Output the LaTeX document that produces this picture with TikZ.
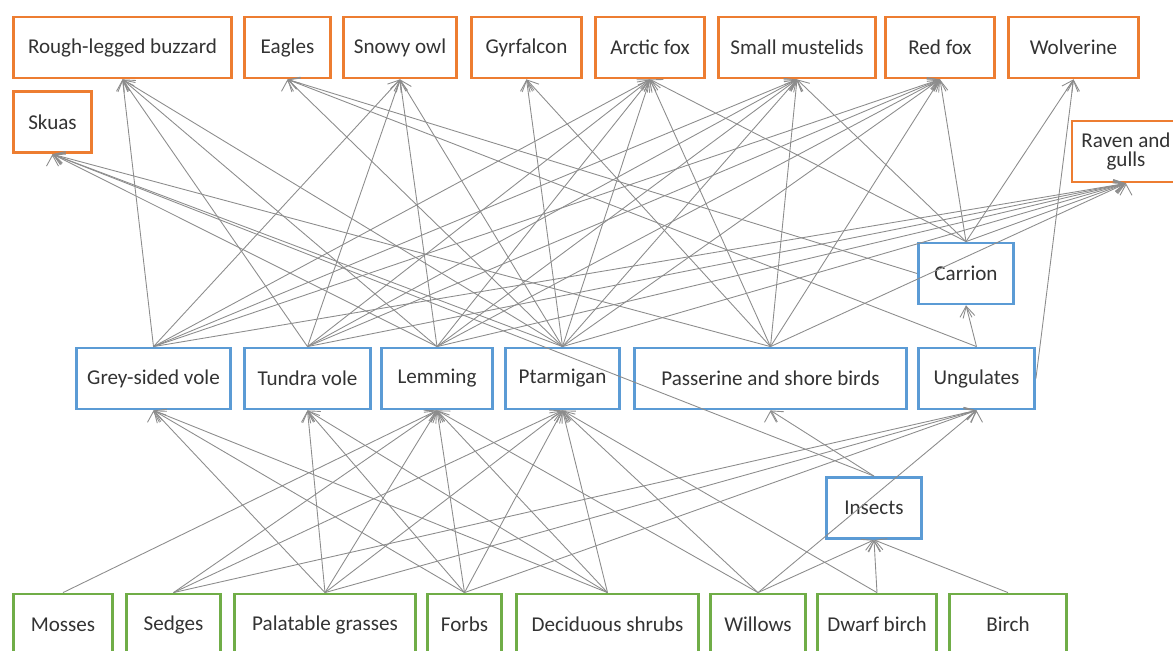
\documentclass[tikz,border=0pt]{standalone}
\usepackage{fontspec}
\setmainfont{Carlito}
\usetikzlibrary{positioning,arrows.meta}

\definecolor{predorange}{RGB}{237,125,49}
\definecolor{preyblue}{RGB}{91,155,213}
\definecolor{plantgreen}{RGB}{112,173,71}
\definecolor{webgray}{RGB}{140,140,140}

\tikzset{
  box/.style={draw, line width=1.6pt, fill=white, minimum height=1.22cm,
    inner sep=2pt, align=center, text=black!80, font=\fontsize{12}{13}\selectfont},
  pred/.style={box, draw=predorange},
  prey/.style={box, draw=preyblue},
  plant/.style={box, draw=plantgreen},
  eaten/.style={draw=webgray, line width=0.5pt, {Straight Barb[length=2.2mm,width=2.4mm]}-},
}

\begin{document}
\begin{tikzpicture}
  \useasboundingbox (0,0) rectangle (23.46,-13.02);

  % predators
  \node [pred, minimum width=4.36cm] at (2.45,-0.95) (rlb) {Rough-legged buzzard};
  \node [pred, minimum width=1.72cm] at (5.75,-0.95) (eagles) {Eagles};
  \node [pred, minimum width=2.26cm] at (8,-0.95) (snowy) {Snowy owl};
  \node [pred, minimum width=2.2cm] at (10.53,-0.95) (gyr) {Gyrfalcon};
  \node [pred, minimum width=2.18cm] at (13,-0.95) (afox) {Arctic fox};
  \node [pred, minimum width=3.14cm] at (15.94,-0.95) (must) {Small mustelids};
  \node [pred, minimum width=2.18cm] at (18.8,-0.95) (rfox) {Red fox};
  \node [pred, minimum width=2.6cm] at (21.47,-0.95) (wolv) {Wolverine};
  \node [pred, minimum width=1.56cm, below=0.22cm of rlb.south west, anchor=north west] (skuas) {Skuas};
  \node [pred, minimum width=2.16cm] at (22.52,-3.03) (raven) {Raven and\\[-2pt]gulls};

  % prey
  \node [prey, minimum width=3.08cm] at (3.07,-7.57) (gsv) {Grey-sided vole};
  \node [prey, minimum width=2.52cm] at (6.15,-7.57) (tv) {Tundra vole};
  \node [prey, minimum width=2.22cm] at (8.74,-7.57) (lem) {Lemming};
  \node [prey, minimum width=2.28cm] at (11.25,-7.57) (ptar) {Ptarmigan};
  \node [prey, minimum width=5.44cm] at (15.41,-7.57) (pass) {Passerine and shore birds};
  \node [prey, minimum width=2.32cm] at (19.53,-7.57) (ung) {Ungulates};
  \node [prey, minimum width=1.9cm] at (19.32,-5.47) (carrion) {Carrion};
  \node [prey, minimum width=1.9cm] at (17.48,-10.16) (insects) {Insects};

  % plants
  \node [plant, minimum width=1.98cm] at (1.26,-12.49) (mosses) {Mosses};
  \node [plant, minimum width=1.88cm] at (3.47,-12.49) (sedges) {Sedges};
  \node [plant, minimum width=3.62cm] at (6.5,-12.49) (grass) {Palatable grasses};
  \node [plant, minimum width=1.48cm] at (9.29,-12.49) (forbs) {Forbs};
  \node [plant, minimum width=3.64cm] at (12.15,-12.49) (shrubs) {Deciduous shrubs};
  \node [plant, minimum width=1.9cm] at (15.16,-12.49) (willows) {Willows};
  \node [plant, minimum width=2.38cm] at (17.54,-12.49) (dbirch) {Dwarf birch};
  \node [plant, minimum width=2.34cm] at (20.16,-12.49) (birch) {Birch};

  % who eats what
  \draw [eaten] (gsv.south) edge (grass.north) edge (forbs.north) edge (shrubs.north);
  \draw [eaten] (tv.south) edge (grass.north) edge (forbs.north) edge (shrubs.north);
  \draw [eaten] (lem.south) edge (mosses.north) edge (sedges.north) edge (grass.north) edge (forbs.north)
    edge (shrubs.north) edge (willows.north);
  \draw [eaten] (ptar.south) edge (sedges.north) edge (grass.north) edge (forbs.north)
    edge (shrubs.north) edge (willows.north) edge (dbirch.north);
  \draw [eaten] (ung.south) edge (sedges.north) edge (grass.north) edge (forbs.north) edge (willows.north);
  \draw [eaten] (insects.south) edge (willows.north) edge (dbirch.north) edge (birch.north);
  \draw [eaten] (pass.south) edge (insects.north);
  \draw [eaten] (carrion.south) edge (ung.north);

  \draw [eaten] (rlb.south) edge (gsv.north) edge (tv.north) edge (lem.north) edge (ptar.north);
  \draw [eaten] (eagles.south) edge (ptar.north) edge (ung.north) edge (carrion.west);
  \draw [eaten] (snowy.south) edge (gsv.north) edge (tv.north) edge (lem.north) edge (ptar.north);
  \draw [eaten] (gyr.south) edge (ptar.north) edge (pass.north);
  \draw [eaten] (afox.south) edge (gsv.north) edge (tv.north) edge (lem.north) edge (ptar.north)
    edge (pass.north) edge (carrion.north);
  \draw [eaten] (must.south) edge (gsv.north) edge (tv.north) edge (lem.north) edge (ptar.north)
    edge (pass.north) edge (carrion.north);
  \draw [eaten] (rfox.south) edge (gsv.north) edge (tv.north) edge (lem.north) edge (ptar.north)
    edge (pass.north) edge (carrion.north);
  \draw [eaten] (wolv.south) edge (ung.east) edge (carrion.north);
  \draw [eaten] (skuas.south) edge (lem.north) edge (ptar.north) edge (pass.north) edge (insects.north);
  \draw [eaten] (raven.south) edge (gsv.north) edge (tv.north) edge (lem.north) edge (ptar.north)
    edge (pass.north) edge (carrion.north);
\end{tikzpicture}
\end{document}
